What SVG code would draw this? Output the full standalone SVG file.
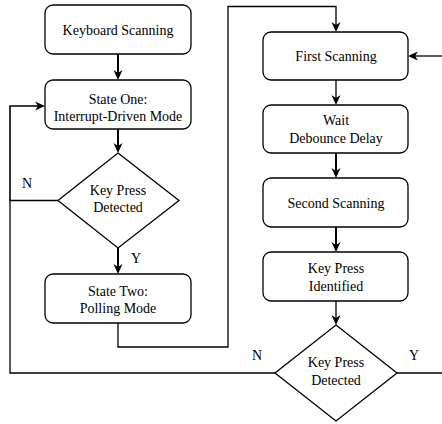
<svg xmlns="http://www.w3.org/2000/svg" width="442" height="424" viewBox="0 0 442 424" font-family="'Liberation Serif', 'DejaVu Serif', serif">
<defs>
<style>
.box{fill:#fff;stroke:#000;stroke-width:1.3}
.t{font-family:'Liberation Serif','DejaVu Serif',serif;font-size:14px;fill:#000;text-anchor:middle}
.l{font-family:'Liberation Serif','DejaVu Serif',serif;font-size:14px;fill:#000}
.c{fill:none;stroke:#000;stroke-width:1.3}
.k{fill:none;stroke:#000;stroke-width:2}
</style>
<marker id="arr" viewBox="0 0 10 10" markerWidth="10" markerHeight="10" refX="6" refY="5" orient="auto" markerUnits="userSpaceOnUse">
<path d="M0,0.5 L10,5 L0,9.5 L3,5 Z" fill="#000"/>
</marker>
</defs>
<rect width="442" height="424" fill="#fff"/>
<g id="connectors">
<path class="k" d="M118,54 V76" marker-end="url(#arr)"/>
<path class="k" d="M118,129 V149" marker-end="url(#arr)"/>
<path class="k" d="M118,248 V270" marker-end="url(#arr)"/>
<path class="c" d="M58,200.5 H10 V106 H41" marker-end="url(#arr)" style="stroke-width:1.6"/>
<path class="c" d="M118,323 V347 H228 V6.5 H336 V28" marker-end="url(#arr)"/>
<path class="c" d="M336,80 V101" marker-end="url(#arr)"/>
<path class="k" d="M336,153 V174" marker-end="url(#arr)"/>
<path class="k" d="M336,227 V248" marker-end="url(#arr)"/>
<path class="c" d="M336,301 V321" marker-end="url(#arr)"/>
<path class="c" d="M275,373 H10 V200.5"/>
<path class="c" d="M397,373 H442"/>
<path class="c" d="M442,56 H412" marker-end="url(#arr)"/>
</g>
<g id="keyboard-scanning">
<rect class="box" x="45" y="5" width="146" height="49" rx="8"/>
<text class="t" x="118" y="35">Keyboard Scanning</text>
</g>
<g id="state-one">
<rect class="box" x="45" y="80" width="146" height="49" rx="8"/>
<text class="t" x="118" y="103.5">State One:</text>
<text class="t" x="118" y="120.5">Interrupt-Driven Mode</text>
</g>
<g id="decision-1">
<polygon class="box" points="118,153 179,200.5 118,248 58,200.5"/>
<text class="t" x="118" y="194.5">Key Press</text>
<text class="t" x="118" y="211.5">Detected</text>
</g>
<g id="state-two">
<rect class="box" x="45" y="274" width="146" height="49" rx="8"/>
<text class="t" x="118" y="295.5">State Two:</text>
<text class="t" x="118" y="313">Polling Mode</text>
</g>
<g id="first-scanning">
<rect class="box" x="263" y="32" width="145" height="48" rx="8"/>
<text class="t" x="336" y="61">First Scanning</text>
</g>
<g id="wait">
<rect class="box" x="263" y="105" width="145" height="48" rx="8"/>
<text class="t" x="336" y="125">Wait</text>
<text class="t" x="336" y="142.5">Debounce Delay</text>
</g>
<g id="second-scanning">
<rect class="box" x="263" y="178" width="145" height="49" rx="8"/>
<text class="t" x="336" y="207.5">Second Scanning</text>
</g>
<g id="key-press-identified">
<rect class="box" x="263" y="252" width="145" height="49" rx="8"/>
<text class="t" x="336" y="273">Key Press</text>
<text class="t" x="336" y="291">Identified</text>
</g>
<g id="decision-2">
<polygon class="box" points="336,325 397,373 336,421 275,373"/>
<text class="t" x="336" y="367">Key Press</text>
<text class="t" x="336" y="385">Detected</text>
</g>
<g id="labels">
<text class="l" x="22" y="188">N</text>
<text class="l" x="131" y="263">Y</text>
<text class="l" x="252" y="360">N</text>
<text class="l" x="409" y="360">Y</text>
</g>
</svg>
